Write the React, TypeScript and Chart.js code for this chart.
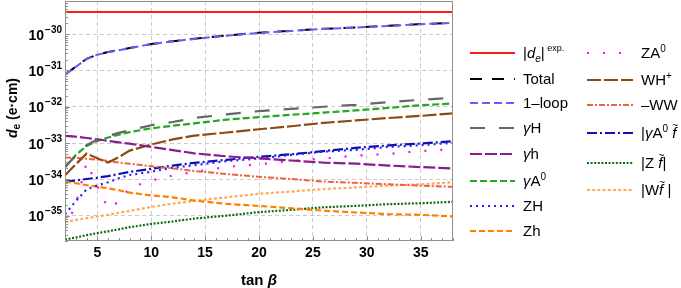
import React, { useEffect, useRef } from 'react';
import { Chart, registerables } from 'chart.js';

Chart.register(...registerables);

// ---------- data ----------
const tanBeta = [2, 3, 4, 5, 6, 7, 8, 10, 12, 14, 17, 20, 23, 26, 29, 32, 35, 38];
const expLimitX = [2, 38];
const expLimit = [4.1e-30, 4.1e-30];
const total = [7.8e-32, 1.27e-31, 2.08e-31, 2.72e-31, 3.22e-31, 3.63e-31, 4.13e-31, 5.34e-31, 6.4e-31, 7.46e-31, 9.17e-31, 1.1e-30, 1.24e-30, 1.4e-30, 1.54e-30, 1.71e-30, 1.9e-30, 2.06e-30];
const oneLoop = [7.7e-32, 1.26e-31, 2.06e-31, 2.7e-31, 3.2e-31, 3.6e-31, 4.1e-31, 5.3e-31, 6.35e-31, 7.4e-31, 9.1e-31, 1.09e-30, 1.23e-30, 1.39e-30, 1.53e-30, 1.69e-30, 1.88e-30, 2.04e-30];
const gammaH = [2.2e-34, 4.5e-34, 8.7e-34, 1.25e-33, 1.58e-33, 1.9e-33, 2.24e-33, 3.1e-33, 3.8e-33, 4.9e-33, 6.2e-33, 7.6e-33, 8.7e-33, 1.0e-32, 1.13e-32, 1.35e-32, 1.55e-32, 1.78e-32];
const gammah = [1.58e-33, 1.5e-33, 1.38e-33, 1.27e-33, 1.14e-33, 1.04e-33, 9.6e-34, 7.8e-34, 6.4e-34, 5.2e-34, 4.3e-34, 3.76e-34, 3.3e-34, 2.9e-34, 2.7e-34, 2.4e-34, 2.18e-34, 2.0e-34];
const gammaA0 = [2.1e-34, 4.7e-34, 8.3e-34, 1.15e-33, 1.42e-33, 1.7e-33, 2.0e-33, 2.55e-33, 3.0e-33, 3.5e-33, 4.4e-33, 5.2e-33, 6.0e-33, 6.9e-33, 7.9e-33, 9.3e-33, 1.1e-32, 1.23e-32];
const zH = [1.1e-35, 2.5e-35, 5.3e-35, 6.8e-35, 8.3e-35, 1.07e-34, 1.32e-34, 1.62e-34, 2.1e-34, 2.45e-34, 3.2e-34, 3.76e-34, 4.7e-34, 5.8e-34, 6.5e-34, 7.8e-34, 8.7e-34, 1.02e-33];
const zh = [8.7e-35, 7.8e-35, 6.9e-35, 6.3e-35, 5.6e-35, 5.0e-35, 4.3e-35, 3.6e-35, 3.2e-35, 2.6e-35, 2.1e-35, 1.85e-35, 1.6e-35, 1.37e-35, 1.22e-35, 1.1e-35, 1.05e-35, 9.5e-36];
const zA0 = [4.5e-36, 2.0e-35, 2.9e-34, 6.5e-35, 1.6e-35, 2.4e-35, 5.9e-35, 9.3e-35, 1.27e-34, 1.6e-34, 2.2e-34, 2.6e-34, 3.2e-34, 3.76e-34, 4.5e-34, 5.0e-34, 6.0e-34, 6.8e-34];
const wHplus = [1.3e-34, 2.6e-34, 5.1e-34, 3.8e-34, 2.9e-34, 4.1e-34, 6.2e-34, 9.1e-34, 1.26e-33, 1.6e-33, 1.95e-33, 2.4e-33, 2.9e-33, 3.6e-33, 4.2e-33, 4.9e-33, 5.6e-33, 6.6e-33];
const minusWW = [4.0e-34, 3.9e-34, 3.7e-34, 3.5e-34, 3.2e-34, 2.9e-34, 2.7e-34, 2.3e-34, 2.0e-34, 1.7e-34, 1.4e-34, 1.17e-34, 1.02e-34, 8.7e-35, 8.0e-35, 7.3e-35, 6.7e-35, 6.2e-35];
const gammaA0f = [8.7e-35, 9.3e-35, 1.02e-34, 1.11e-34, 1.23e-34, 1.4e-34, 1.6e-34, 1.95e-34, 2.4e-34, 2.85e-34, 3.45e-34, 4.2e-34, 4.9e-34, 6.0e-34, 7.4e-34, 8.6e-34, 9.7e-34, 1.13e-33];
const zf = [2.2e-36, 2.5e-36, 2.9e-36, 3.3e-36, 3.7e-36, 4.2e-36, 4.8e-36, 5.9e-36, 6.9e-36, 8.3e-36, 1.0e-35, 1.25e-35, 1.44e-35, 1.7e-35, 1.86e-35, 2.07e-35, 2.2e-35, 2.4e-35];
const wf = [6.6e-36, 7.6e-36, 8.5e-36, 9.5e-36, 1.05e-35, 1.2e-35, 1.35e-35, 1.74e-35, 2.14e-35, 2.55e-35, 3.2e-35, 4.0e-35, 4.6e-35, 5.4e-35, 6.0e-35, 6.7e-35, 7.3e-35, 8.3e-35];

const xTicks = [5, 10, 15, 20, 25, 30, 35];
const yTickExponents = [-35, -34, -33, -32, -31, -30];
const xMin = 2;
const xMax = 38;
const yMin = 2e-36;
const yMax = 8.2e-30;

// ---------- styles ----------
const FONT = "'Liberation Sans', Arial, sans-serif";

type Part = { t: string; s?: number; it?: boolean; b?: boolean; dy?: number; tilde?: boolean };

type Series = {
  key: string;
  xs: number[];
  ys: number[];
  color: string;
  dash: number[];
  width: number;
  order: number;
  col: number;
  ly: number;
  label: Part[];
};

const series: Series[] = [
  { key: 'exp', xs: expLimitX, ys: expLimit, color: '#ff1a1a', dash: [], width: 2, order: 0, col: 0, ly: 53,
    label: [{ t: '|' }, { t: 'd', it: true }, { t: 'e', s: 10, dy: 4, it: true }, { t: '|' }, { t: ' exp.', s: 9, dy: -7 }] },
  { key: 'total', xs: tanBeta, ys: total, color: '#000000', dash: [12, 10], width: 2, order: 3, col: 0, ly: 79,
    label: [{ t: 'Total' }] },
  { key: 'oneloop', xs: tanBeta, ys: oneLoop, color: '#5f5ff5', dash: [8, 4], width: 2, order: 1, col: 0, ly: 103,
    label: [{ t: '1\u2013loop' }] },
  { key: 'gH', xs: tanBeta, ys: gammaH, color: '#666666', dash: [15, 14], width: 2.2, order: 4, col: 0, ly: 128,
    label: [{ t: '\u03b3', it: true }, { t: 'H' }] },
  { key: 'gh', xs: tanBeta, ys: gammah, color: '#8b1c8b', dash: [12, 3], width: 2.2, order: 4, col: 0, ly: 154,
    label: [{ t: '\u03b3', it: true }, { t: 'h' }] },
  { key: 'gA0', xs: tanBeta, ys: gammaA0, color: '#22aa22', dash: [7, 3], width: 2.2, order: 4, col: 0, ly: 181,
    label: [{ t: '\u03b3', it: true }, { t: 'A' }, { t: '0', s: 10, dy: -6 }] },
  { key: 'ZH', xs: tanBeta, ys: zH, color: '#2020ff', dash: [2, 4], width: 2.2, order: 4, col: 0, ly: 206,
    label: [{ t: 'ZH' }] },
  { key: 'Zh', xs: tanBeta, ys: zh, color: '#ff8000', dash: [6, 3], width: 2.2, order: 4, col: 0, ly: 231,
    label: [{ t: 'Zh' }] },
  { key: 'ZA0', xs: tanBeta, ys: zA0, color: '#ff00ff', dash: [2, 14], width: 2.2, order: 4, col: 1, ly: 53,
    label: [{ t: 'ZA' }, { t: '0', s: 10, dy: -6 }] },
  { key: 'WH', xs: tanBeta, ys: wHplus, color: '#8c4a14', dash: [14, 3], width: 2.2, order: 4, col: 1, ly: 80,
    label: [{ t: 'WH' }, { t: '+', s: 10, dy: -6 }] },
  { key: 'WW', xs: tanBeta, ys: minusWW, color: '#f0603c', dash: [6, 2, 2, 2], width: 2, order: 4, col: 1, ly: 105,
    label: [{ t: '\u2013WW' }] },
  { key: 'gA0f', xs: tanBeta, ys: gammaA0f, color: '#1010b0', dash: [10, 3, 2, 3], width: 2.2, order: 4, col: 1, ly: 133,
    label: [{ t: '|' }, { t: '\u03b3', it: true }, { t: 'A' }, { t: '0', s: 10, dy: -6 }, { t: ' ' }, { t: 'f', it: true, tilde: true }, { t: ' |' }] },
  { key: 'Zf', xs: tanBeta, ys: zf, color: '#0b6e0b', dash: [2, 1.6], width: 2.2, order: 4, col: 1, ly: 163,
    label: [{ t: '|Z ' }, { t: 'f', it: true, tilde: true }, { t: '|' }] },
  { key: 'Wf', xs: tanBeta, ys: wf, color: '#ffaa5a', dash: [3, 2.2], width: 2.2, order: 4, col: 1, ly: 190,
    label: [{ t: '|W' }, { t: 'f', it: true, tilde: true }, { t: ' |' }] },
];

function drawRich(ctx: CanvasRenderingContext2D, x: number, y: number, parts: Part[], base: number, bold: boolean, measureOnly = false): number {
  let cx = x;
  for (const p of parts) {
    const size = p.s || base;
    ctx.font = `${p.it ? 'italic ' : ''}${bold || p.b ? 'bold ' : ''}${size}px ${FONT}`;
    const w = ctx.measureText(p.t).width;
    if (!measureOnly) {
      ctx.fillText(p.t, cx, y + (p.dy || 0));
      if (p.tilde) {
        ctx.font = `${bold ? 'bold ' : ''}10px ${FONT}`;
        const tw = ctx.measureText('~').width;
        ctx.fillText('~', cx + w / 2 - tw / 2 + 1, y - 9);
      }
    }
    cx += w;
  }
  return cx - x;
}

const decorPlugin = {
  id: 'decor',
  afterDraw(chart: any) {
    const ctx: CanvasRenderingContext2D = chart.ctx;
    const { left, right, top, bottom } = chart.chartArea;
    const xs = chart.scales.x;
    const ys = chart.scales.y;
    ctx.save();
    ctx.setLineDash([]);
    // frame
    ctx.strokeStyle = '#8f8f8f';
    ctx.lineWidth = 1;
    ctx.strokeRect(left + 0.5, top + 0.5, right - left - 1, bottom - top - 1);
    // inner ticks on bottom axis
    ctx.beginPath();
    for (let t = Math.ceil(xMin); t <= xMax; t++) {
      const px = Math.round(xs.getPixelForValue(t)) + 0.5;
      const len = t % 5 === 0 ? 5 : 3;
      ctx.moveTo(px, bottom);
      ctx.lineTo(px, bottom - len);
    }
    // inner ticks on left axis
    for (let d = -36; d <= -30; d++) {
      for (let m = 1; m <= 9; m++) {
        const v = m * Math.pow(10, d);
        if (v < yMin || v > yMax) continue;
        const py = Math.round(ys.getPixelForValue(v)) + 0.5;
        const len = m === 1 ? 5 : 3;
        ctx.moveTo(left, py);
        ctx.lineTo(left + len, py);
      }
    }
    ctx.stroke();

    // y tick labels (10^n)
    ctx.fillStyle = '#000';
    ctx.textBaseline = 'alphabetic';
    ctx.textAlign = 'left';
    for (const e of yTickExponents) {
      const py = ys.getPixelForValue(Math.pow(10, e));
      ctx.font = `bold 10px ${FONT}`;
      const sup = '\u2212' + String(-e);
      const w2 = ctx.measureText(sup).width;
      ctx.font = `bold 14px ${FONT}`;
      const w1 = ctx.measureText('10').width;
      const xEnd = left - 3;
      ctx.fillText('10', xEnd - w2 - w1 - 1, py + 5.5);
      ctx.font = `bold 10px ${FONT}`;
      ctx.fillText(sup, xEnd - w2, py - 1.5);
    }

    // x axis title
    const xParts: Part[] = [{ t: 'tan ' }, { t: '\u03b2', it: true }];
    const xw = drawRich(ctx, 0, 0, xParts, 15, true, true);
    drawRich(ctx, (left + right) / 2 - xw / 2, 285, xParts, 15, true);

    // y axis title
    const yParts: Part[] = [{ t: 'd', it: true }, { t: 'e', s: 10, dy: 3 }, { t: ' (e\u00b7cm)' }];
    const yw = drawRich(ctx, 0, 0, yParts, 14, true, true);
    ctx.save();
    ctx.translate(17, 108);
    ctx.rotate(-Math.PI / 2);
    drawRich(ctx, -yw / 2, 0, yParts, 14, true);
    ctx.restore();

    // legend
    const colLine = [[470, 515], [587, 633]];
    const colText = [523, 641];
    for (const s of series) {
      const [x1, x2] = colLine[s.col];
      ctx.strokeStyle = s.color;
      ctx.lineWidth = s.width;
      ctx.setLineDash(s.dash);
      ctx.beginPath();
      ctx.moveTo(x1, s.ly);
      ctx.lineTo(x2, s.ly);
      ctx.stroke();
      ctx.setLineDash([]);
      ctx.fillStyle = '#000';
      drawRich(ctx, colText[s.col], s.ly + 5, s.label, 15, false);
    }
    ctx.restore();
  },
};

export default function App() {
  const ref = useRef<HTMLCanvasElement>(null);
  useEffect(() => {
    if (!ref.current) return;
    const datasets = series.map((s) => ({
      label: s.key,
      data: s.xs.map((x, i) => ({ x, y: s.ys[i] })),
      borderColor: s.color,
      backgroundColor: s.color,
      borderWidth: s.width,
      borderDash: s.dash,
      pointRadius: 0,
      pointHoverRadius: 0,
      fill: false,
      tension: 0,
      order: s.order,
    }));
    const chart = new Chart(ref.current, {
      type: 'line',
      data: { datasets } as any,
      options: {
        animation: false,
        responsive: false,
        maintainAspectRatio: false,
        events: [],
        layout: { padding: { left: 0, top: 1, right: 228, bottom: 0 } },
        plugins: { legend: { display: false }, tooltip: { enabled: false } },
        scales: {
          x: {
            type: 'linear',
            min: xMin,
            max: xMax,
            afterBuildTicks: (s: any) => { s.ticks = xTicks.map((v) => ({ value: v })); },
            afterFit: (s: any) => { s.height = 47; },
            grid: { color: '#cbcbcb', drawTicks: false, lineWidth: 1 },
            border: { display: false, dash: [4, 3] },
            ticks: { padding: 4, color: '#000', maxRotation: 0, autoSkip: false, font: { family: FONT, size: 14, weight: 'bold' } },
          },
          y: {
            type: 'logarithmic',
            min: yMin,
            max: yMax,
            afterBuildTicks: (s: any) => { s.ticks = yTickExponents.map((e) => ({ value: Math.pow(10, e) })); },
            afterFit: (s: any) => { s.width = 65; },
            grid: { color: '#cbcbcb', drawTicks: false, lineWidth: 1 },
            border: { display: false, dash: [4, 3] },
            ticks: { display: false },
          },
        },
      } as any,
      plugins: [decorPlugin],
    });
    return () => chart.destroy();
  }, []);
  return (
    <div style={{ position: 'absolute', left: 0, top: 0, width: 681, height: 288, background: '#ffffff' }}>
      <canvas ref={ref} width={681} height={288} style={{ display: 'block' }} />
    </div>
  );
}
